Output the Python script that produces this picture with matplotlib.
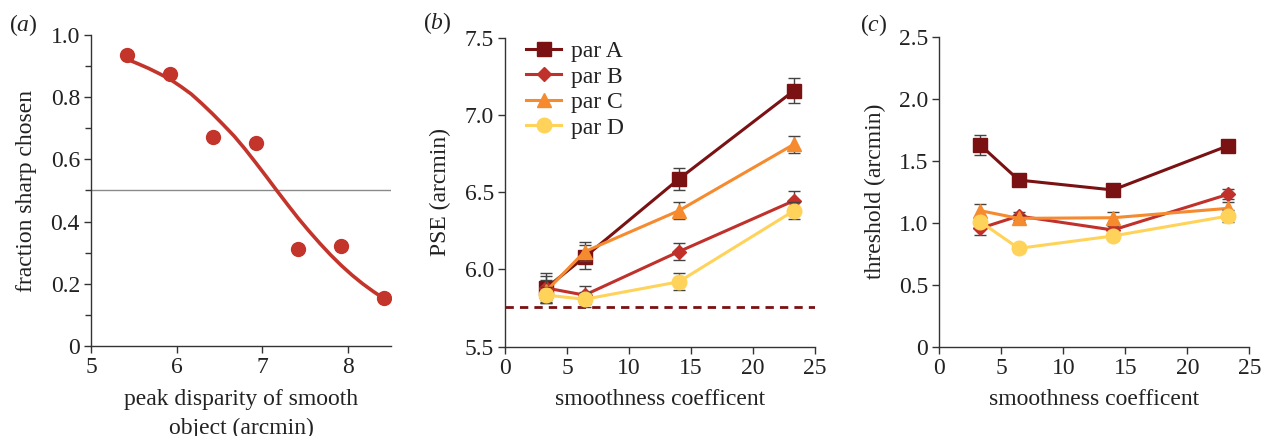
import matplotlib
matplotlib.use("Agg")
import matplotlib.pyplot as plt
from matplotlib.ticker import MultipleLocator, FixedLocator

plt.rcParams['font.family'] = ['Liberation Serif', 'DejaVu Serif']
plt.rcParams['mathtext.fontset'] = 'custom'
plt.rcParams['mathtext.rm'] = 'Liberation Serif'
plt.rcParams['mathtext.it'] = 'Liberation Serif:italic'

# ---- data panel (a)
disparity = [5.42, 5.92, 6.42, 6.92, 7.42, 7.92, 8.42]
frac_sharp = [0.935, 0.875, 0.672, 0.652, 0.313, 0.32, 0.155]
# fitted psychometric curve
fit_x = [5.42, 5.545, 5.67, 5.795, 5.92, 6.045, 6.17, 6.295, 6.42, 6.545, 6.67, 6.795,
         6.92, 7.045, 7.17, 7.295, 7.42, 7.545, 7.67, 7.795, 7.92, 8.045, 8.17, 8.295, 8.42]
fit_y = [0.922, 0.908, 0.893, 0.876, 0.858, 0.835, 0.810, 0.779, 0.746, 0.711, 0.675, 0.634,
         0.590, 0.545, 0.499, 0.454, 0.410, 0.369, 0.330, 0.293, 0.259, 0.228, 0.200, 0.175, 0.152]

# ---- data panels (b), (c)
smooth = [3.3, 6.4, 14.0, 23.3]
series = ['par A', 'par B', 'par C', 'par D']
pse_A = [5.88, 6.08, 6.585, 7.157]
pse_B = [5.88, 5.834, 6.115, 6.445]
pse_C = [5.86, 6.115, 6.38, 6.81]
pse_D = [5.834, 5.807, 5.92, 6.38]
pse_A_err = [0.10, 0.08, 0.07, 0.08]
pse_B_err = [0.08, 0.06, 0.055, 0.06]
pse_C_err = [0.07, 0.06, 0.055, 0.055]
pse_D_err = [0.05, 0.05, 0.055, 0.055]
pse_baseline = 5.76

thr_A = [1.627, 1.344, 1.264, 1.621]
thr_B = [0.955, 1.054, 0.941, 1.229]
thr_C = [1.097, 1.035, 1.04, 1.116]
thr_D = [1.008, 0.793, 0.893, 1.054]
thr_A_err = [0.078, 0.03, 0.03, 0.03]
thr_B_err = [0.055, 0.03, 0.03, 0.04]
thr_C_err = [0.055, 0.03, 0.045, 0.05]
thr_D_err = [0.03, 0.03, 0.03, 0.045]

colors = ['#7A1113', '#C0312B', '#F58A2E', '#FFD35A']
markers = ['s', 'D', '^', 'o']
msizes = [10, 7.5, 10, 10.5]
red_a = '#C3342B'

FS = 17
spine_c = '#333333'
txt_c = '#222222'

fig = plt.figure(figsize=(12.62, 4.36), dpi=100)

def style(ax):
    for s in ['top', 'right']:
        ax.spines[s].set_visible(False)
    for s in ['left', 'bottom']:
        ax.spines[s].set_color(spine_c)
        ax.spines[s].set_linewidth(1.0)
    ax.tick_params(which='both', direction='out', color=spine_c, labelsize=FS, width=1.0,
                   labelcolor=txt_c, pad=3)
    ax.tick_params(which='major', length=5)
    ax.tick_params(which='minor', length=4)

# panel a
axa = fig.add_axes([91/1262, 1-346/436, 300/1262, 311/436])
style(axa)
axa.set_xlim(5, 8.5)
axa.set_ylim(0, 1.0)
axa.axhline(0.5, color='#8a8a8a', lw=1.0, zorder=1)
axa.plot(fit_x, fit_y, color=red_a, lw=2.6, zorder=2, solid_joinstyle='round')
axa.plot(disparity, frac_sharp, 'o', color=red_a, ms=10, zorder=3)
axa.xaxis.set_major_locator(FixedLocator([5, 6, 7, 8]))
axa.yaxis.set_major_locator(FixedLocator([0, 0.2, 0.4, 0.6, 0.8, 1.0]))
axa.yaxis.set_minor_locator(FixedLocator([0.1, 0.3, 0.5, 0.7, 0.9]))
axa.set_yticklabels(['0', '0.2', '0.4', '0.6', '0.8', '1.0'])
axa.set_xlabel('peak disparity of smooth\nobject (arcmin)', fontsize=FS, linespacing=1.45,
               labelpad=8, color=txt_c)
axa.set_ylabel('fraction sharp chosen', fontsize=FS, labelpad=10, color=txt_c)

# panel b
axb = fig.add_axes([505.3/1262, 1-346.7/436, 309.7/1262, 309/436])
style(axb)
axb.set_xlim(0, 25)
axb.set_ylim(5.5, 7.5)
axb.axhline(pse_baseline, color=colors[0], lw=2.0, ls=(0, (3, 2.2)), zorder=1)
pse = [pse_A, pse_B, pse_C, pse_D]
pse_err = [pse_A_err, pse_B_err, pse_C_err, pse_D_err]
for i in range(4):
    axb.errorbar(smooth, pse[i], yerr=pse_err[i], fmt='none', ecolor='#444444',
                 elinewidth=1.0, capsize=4, capthick=1.0, zorder=2 + i)
    axb.plot(smooth, pse[i], color=colors[i], marker=markers[i], ms=msizes[i],
             lw=2.2, label=series[i], zorder=2.5 + i)
axb.xaxis.set_major_locator(MultipleLocator(5))
axb.set_yticks([5.5, 6.0, 6.5, 7.0, 7.5])
axb.set_yticklabels(['5.5', '6.0', '6.5', '7.0', '7.5'])
axb.set_xlabel('smoothness coefficent', fontsize=FS, labelpad=7, color=txt_c)
axb.set_ylabel('PSE (arcmin)', fontsize=FS, labelpad=10, color=txt_c)
leg = axb.legend(loc='upper left', bbox_to_anchor=(0.067, 0.99), frameon=False, fontsize=FS,
                 borderpad=0.0, labelspacing=0.165, handlelength=1.5, handletextpad=0.4,
                 borderaxespad=0.0)
for t in leg.get_texts():
    t.set_color(txt_c)

# panel c
axc = fig.add_axes([939.3/1262, 1-346.7/436, 310/1262, 310/436])
style(axc)
axc.set_xlim(0, 25)
axc.set_ylim(0, 2.5)
thr = [thr_A, thr_B, thr_C, thr_D]
thr_err = [thr_A_err, thr_B_err, thr_C_err, thr_D_err]
for i in range(4):
    axc.errorbar(smooth, thr[i], yerr=thr_err[i], fmt='none', ecolor='#444444',
                 elinewidth=1.0, capsize=4, capthick=1.0, zorder=2 + i)
    axc.plot(smooth, thr[i], color=colors[i], marker=markers[i], ms=msizes[i],
             lw=2.2, zorder=2.5 + i)
axc.xaxis.set_major_locator(MultipleLocator(5))
axc.set_yticks([0, 0.5, 1.0, 1.5, 2.0, 2.5])
axc.set_yticklabels(['0', '0.5', '1.0', '1.5', '2.0', '2.5'])
axc.set_xlabel('smoothness coefficent', fontsize=FS, labelpad=7, color=txt_c)
axc.set_ylabel('threshold (arcmin)', fontsize=FS, labelpad=9, color=txt_c)

fig.text(9/1262, 1-25/436, r'($\mathit{a}$)', fontsize=FS, va='center', ha='left', color=txt_c)
fig.text(423/1262, 1-23/436, r'($\mathit{b}$)', fontsize=FS, va='center', ha='left', color=txt_c)
fig.text(860/1262, 1-25/436, r'($\mathit{c}$)', fontsize=FS, va='center', ha='left', color=txt_c)

fig.savefig('out.png', dpi=100)
